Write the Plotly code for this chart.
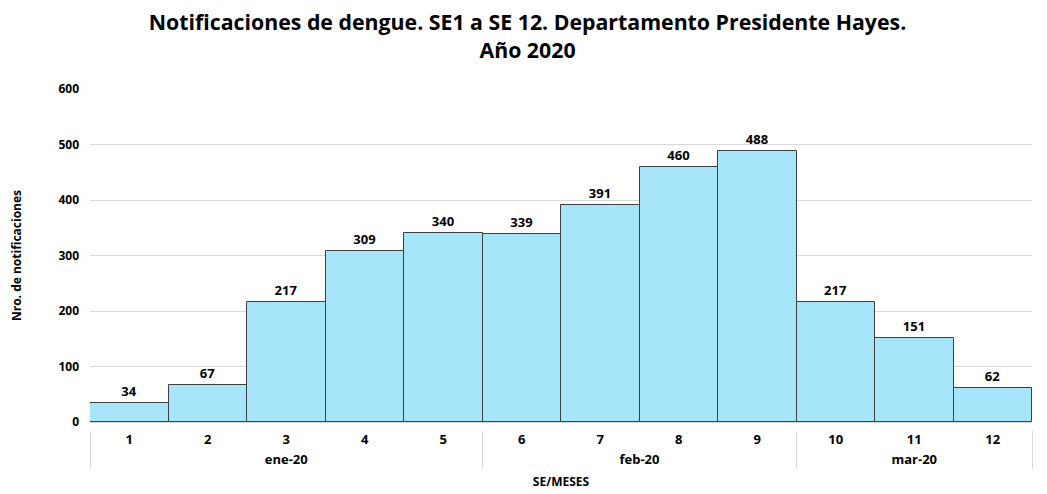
import plotly.graph_objects as go

semanas = ["1", "2", "3", "4", "5", "6", "7", "8", "9", "10", "11", "12"]
meses = ["ene-20"] * 5 + ["feb-20"] * 4 + ["mar-20"] * 3
notificaciones = [34, 67, 217, 309, 340, 339, 391, 460, 488, 217, 151, 62]
y_ticks = [0, 100, 200, 300, 400, 500, 600]

FONT = "Open Sans"

# page body has an 8px margin; size the figure so it fills the window
OFF = 8
W, H = 1047 - OFF, 494 - OFF
M_T, M_B = 89 - OFF, 64
PLOT_H = H - M_T - M_B
GAP = 8  # px between bar baseline and category labels' axis

fig = go.Figure(
    go.Bar(
        x=[meses, semanas],
        y=notificaciones,
        text=[str(v) for v in notificaciones],
        textposition="outside",
        textfont=dict(family=FONT, size=13, color="#000000", weight="bold"),
        marker=dict(color="#A7E5FB", line=dict(color="#3F3F3F", width=1)),
        cliponaxis=False,
    )
)

fig.update_layout(
    width=W,
    height=H,
    paper_bgcolor="white",
    plot_bgcolor="white",
    bargap=0,
    showlegend=False,
    margin=dict(l=90 - OFF, r=15, t=M_T, b=M_B, autoexpand=False),
    title=dict(
        text="Notificaciones de dengue. SE1 a SE 12. Departamento Presidente Hayes.<br>Año 2020",
        x=0.5,
        xanchor="center",
        y=1 - 22 / H,
        yanchor="middle",
        font=dict(family=FONT, size=21.3, color="#000000", weight="bold"),
    ),
    font=dict(family=FONT, color="#000000"),
)

fig.update_xaxes(
    type="multicategory",
    anchor="free",
    position=0,
    showdividers=True,
    dividercolor="#D9D9D9",
    dividerwidth=1,
    tickfont=dict(family=FONT, size=13, color="#000000", weight="bold"),
    ticks="",
    showgrid=False,
    showline=False,
    title=dict(text="SE/MESES", font=dict(family=FONT, size=12, weight="bold"), standoff=10),
    automargin=False,
)

fig.update_yaxes(
    domain=[GAP / PLOT_H, 1],
    range=[0, 600],
    tickvals=y_ticks,
    showgrid=True,
    gridcolor="#D9D9D9",
    zeroline=True,
    zerolinecolor="#D9D9D9",
    tickfont=dict(family=FONT, size=12, color="#000000", weight="bold"),
    ticklabelstandoff=10,
    title=dict(text="Nro. de notificaciones", font=dict(family=FONT, size=12, weight="bold"), standoff=35),
    automargin=False,
)

fig.write_html("out.html")
